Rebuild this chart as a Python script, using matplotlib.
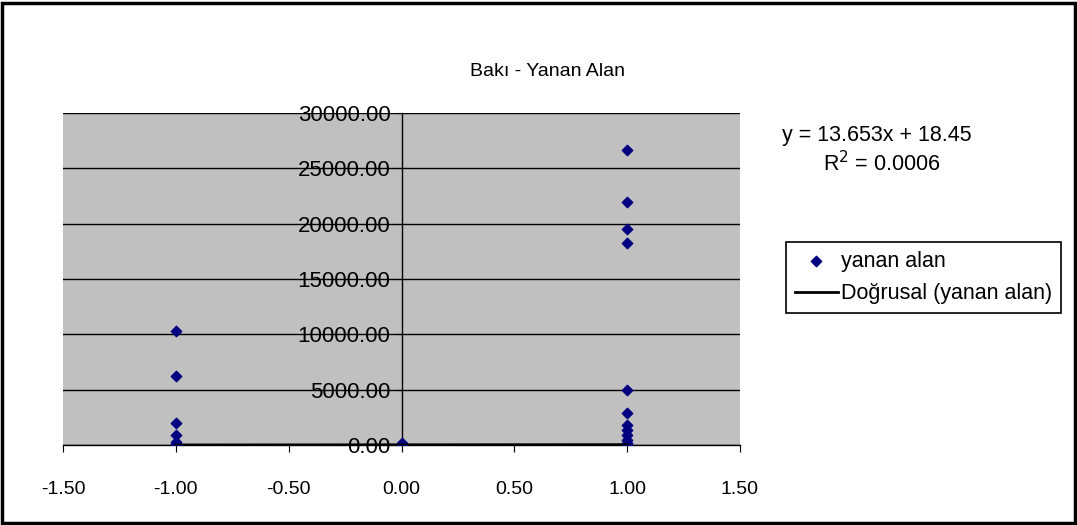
import numpy as np
import matplotlib
matplotlib.use('Agg')
import matplotlib.pyplot as plt
from matplotlib.patches import Rectangle

plt.rcParams['font.family'] = ['Liberation Sans', 'DejaVu Sans']

# burned area by category (-1, 0, 1)
x_neg = [-1, -1, -1, -1, -1, -1, -1]
y_neg = [10300, 6250, 2000, 900, 300, 100, 0]
x_zero = [0, 0, 0]
y_zero = [200, 50, 0]
x_pos = [1, 1, 1, 1, 1, 1, 1, 1, 1, 1, 1, 1]
y_pos = [26700, 22000, 19500, 18250, 5000, 2900, 1800, 1350, 900, 450, 200, 0]

slope = 13.653
intercept = 18.45
r2 = 0.0006

xs = np.array(x_neg + x_zero + x_pos)
ys = np.array(y_neg + y_zero + y_pos)

fig = plt.figure(figsize=(10.77, 5.25), dpi=100)
fig.patches.append(Rectangle((0.002, 0.004), 0.996, 0.99, transform=fig.transFigure,
                             fill=False, edgecolor='black', linewidth=2.5))

ax = fig.add_axes([63 / 1077, 1 - 445 / 525, (740 - 63) / 1077, (445 - 113) / 525])
ax.set_facecolor('#c0c0c0')

ax.set_xlim(-1.5, 1.5)
ax.set_ylim(0, 30000)
ax.set_xticks(np.arange(-1.5, 1.51, 0.5))
ax.set_yticks(np.arange(0, 30001, 5000))
ax.xaxis.set_major_formatter(matplotlib.ticker.FormatStrFormatter('%.2f'))
ax.yaxis.set_major_formatter(matplotlib.ticker.FormatStrFormatter('%.2f'))

ax.grid(axis='y', color='black', linewidth=1)
ax.set_axisbelow(True)

ax.spines['left'].set_position(('data', 0))
ax.spines['top'].set_visible(False)
ax.spines['right'].set_visible(False)
ax.spines['left'].set_linewidth(1)
ax.spines['bottom'].set_linewidth(1)
ax.tick_params(axis='y', direction='out', length=5, labelsize=16, pad=3)
ax.tick_params(axis='x', direction='out', length=5, labelsize=14, pad=21)

ax.scatter(xs, ys, marker='D', s=28, color='#000080', zorder=3, label='yanan alan')

tx = np.array([-1, 1])
ax.plot(tx, slope * tx + intercept, color='black', linewidth=2, zorder=4,
        label='Doğrusal (yanan alan)')

fig.text(548 / 1077, 1 - 72 / 525, 'Bakı - Yanan Alan', ha='center', va='center', fontsize=14)
fig.text(782 / 1077, 1 - 136 / 525, f'y = {slope}x + {intercept}', ha='left', va='center', fontsize=15.5)
fig.text(823 / 1077, 1 - 164 / 525, f'R$^2$ = {r2}', ha='left', va='center', fontsize=15.5)

leg = fig.legend(loc='upper left', bbox_to_anchor=(786 / 1077, 1 - 242 / 525),
                 fontsize=15.5, frameon=True, fancybox=False, edgecolor='black',
                 handlelength=2.0, handletextpad=0.15, borderpad=0.4, labelspacing=0.55,
                 borderaxespad=0)
leg.get_frame().set_linewidth(1.2)
leg.get_frame().set_alpha(1)

fig.savefig('out.png', dpi=100, facecolor='white')
